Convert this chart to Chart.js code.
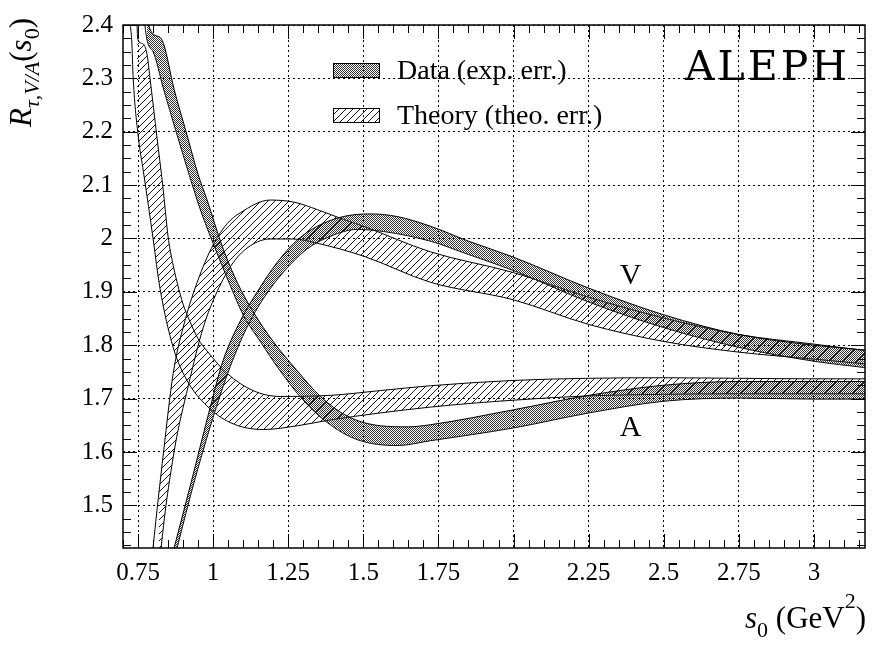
<!DOCTYPE html>
<html lang="en">
<head>
<meta charset="UTF-8">
<title>ALEPH R_tau V/A</title>
<script src="https://cdn.jsdelivr.net/npm/chart.js@4.4.1/dist/chart.umd.min.js"></script>
<style>
  body { margin: 0; background: #fff; }
</style>
</head>
<body>
<canvas id="myChart" width="875" height="650"></canvas>
<script>
// axis ticks
const xTicks = [0.75, 1, 1.25, 1.5, 1.75, 2, 2.25, 2.5, 2.75, 3];
const yTicks = [1.5, 1.6, 1.7, 1.8, 1.9, 2, 2.1, 2.2, 2.3, 2.4];
const xMinorStep = 0.05;
const yMinorStep = 0.025;

// Data (exp. err.), vector channel: upper / lower edge of the band
const dataVHiX = [0.85, 0.87, 0.93, 0.99, 1.033, 1.09, 1.147, 1.213, 1.28, 1.347, 1.433, 1.523, 1.613, 1.723, 1.85, 2.0, 2.25, 2.5, 2.75, 3.0, 3.17];
const dataVHiY = [1.377, 1.42, 1.55, 1.683, 1.771, 1.845, 1.90, 1.955, 1.997, 2.023, 2.041, 2.046, 2.041, 2.023, 1.995, 1.965, 1.907, 1.857, 1.82, 1.80, 1.791];
const dataVLoX = [0.86, 0.88, 0.94, 1.01, 1.057, 1.112, 1.168, 1.234, 1.312, 1.39, 1.479, 1.568, 1.723, 1.85, 2.0, 2.25, 2.5, 2.75, 3.0, 3.17];
const dataVLoY = [1.375, 1.42, 1.55, 1.683, 1.76, 1.833, 1.888, 1.937, 1.98, 2.004, 2.017, 2.013, 1.995, 1.97, 1.94, 1.881, 1.833, 1.796, 1.77, 1.758];

// Data (exp. err.), axial-vector channel
const dataAHiX = [0.78, 0.785, 0.82, 0.835, 0.87, 0.91, 0.95, 0.98, 1.03, 1.08, 1.133, 1.2, 1.28, 1.357, 1.447, 1.557, 1.65, 1.723, 2.0, 2.25, 2.5, 2.75, 3.0, 3.17];
const dataAHiY = [2.45, 2.40, 2.378, 2.365, 2.28, 2.20, 2.12, 2.072, 1.986, 1.918, 1.863, 1.807, 1.752, 1.704, 1.667, 1.649, 1.647, 1.651, 1.679, 1.706, 1.725, 1.732, 1.732, 1.732];
const dataALoX = [0.77, 0.773, 0.80, 0.835, 0.877, 0.92, 0.96, 1.0, 1.057, 1.1, 1.157, 1.223, 1.3, 1.38, 1.48, 1.613, 1.723, 2.0, 2.25, 2.5, 2.75, 3.0, 3.17];
const dataALoY = [2.45, 2.40, 2.35, 2.28, 2.20, 2.12, 2.05, 1.991, 1.912, 1.857, 1.807, 1.752, 1.697, 1.655, 1.623, 1.612, 1.621, 1.645, 1.673, 1.695, 1.701, 1.699, 1.699];

// Theory (theo. err.), vector channel
const theoVHiX = [0.795, 0.80, 0.835, 0.867, 0.9, 0.947, 1.0, 1.047, 1.09, 1.19, 1.27, 1.347, 1.433, 1.5, 1.723, 2.0, 2.25, 2.5, 2.75, 3.0, 3.17];
const theoVHiY = [1.39, 1.42, 1.60, 1.747, 1.833, 1.918, 1.988, 2.028, 2.048, 2.072, 2.068, 2.054, 2.036, 2.023, 1.975, 1.936, 1.890, 1.851, 1.820, 1.802, 1.79];
const theoVLoX = [0.82, 0.827, 0.87, 0.917, 0.967, 1.013, 1.067, 1.123, 1.19, 1.267, 1.347, 1.5, 1.723, 2.0, 2.25, 2.5, 2.75, 3.0, 3.17];
const theoVLoY = [1.37, 1.42, 1.60, 1.723, 1.833, 1.90, 1.955, 1.986, 1.999, 1.999, 1.991, 1.967, 1.918, 1.885, 1.839, 1.807, 1.787, 1.774, 1.765];

// Theory (theo. err.), axial-vector channel
const theoAHiX = [0.746, 0.747, 0.75, 0.766, 0.78, 0.79, 0.813, 0.833, 0.85, 0.865, 0.88, 0.9, 0.923, 0.95, 0.98, 1.047, 1.133, 1.223, 1.39, 1.557, 1.723, 2.0, 2.25, 2.5, 2.75, 3.0, 3.17];
const theoAHiY = [2.45, 2.40, 2.372, 2.365, 2.345, 2.30, 2.19, 2.096, 2.004, 1.955, 1.918, 1.877, 1.844, 1.812, 1.789, 1.747, 1.715, 1.704, 1.706, 1.715, 1.724, 1.734, 1.738, 1.739, 1.738, 1.737, 1.737];
const theoALoX = [0.722, 0.725, 0.729, 0.734, 0.751, 0.768, 0.785, 0.80, 0.823, 0.867, 0.913, 0.98, 1.057, 1.167, 1.28, 1.39, 1.723, 2.0, 2.25, 2.5, 2.75, 3.0, 3.17];
const theoALoY = [2.45, 2.40, 2.372, 2.30, 2.19, 2.125, 2.06, 2.0, 1.907, 1.796, 1.734, 1.686, 1.655, 1.642, 1.649, 1.66, 1.684, 1.697, 1.705, 1.708, 1.709, 1.709, 1.709];

const legendLabels = ['Data (exp. err.)', 'Theory (theo. err.)'];

const serif = '"Liberation Serif", "Times New Roman", serif';
Chart.defaults.font.family = serif;
Chart.defaults.color = '#000';

function pts(xs, ys) {
    return xs.map((x, i) => ({x: x, y: ys[i]}));
}

// fill patterns: fine grey dots for data, "/" hatching for theory
function dotPattern() {
    const c = document.createElement('canvas');
    c.width = 2; c.height = 2;
    const g = c.getContext('2d');
    g.fillStyle = '#333';
    g.fillRect(0, 0, 1, 1);
    g.fillRect(1, 1, 1, 1);
    return g.createPattern(c, 'repeat');
}
function hatchPattern() {
    const c = document.createElement('canvas');
    c.width = 7; c.height = 7;
    const g = c.getContext('2d');
    g.strokeStyle = '#000';
    g.lineWidth = 0.9;
    g.beginPath();
    for (const k of [-7, 0, 7]) {
        g.moveTo(k, 7);
        g.lineTo(k + 7, 0);
    }
    g.stroke();
    return g.createPattern(c, 'repeat');
}
const dots = dotPattern();
const hatch = hatchPattern();

function edge(label, xs, ys, fillWith) {
    return {
        label: label,
        data: pts(xs, ys),
        borderColor: '#000',
        borderWidth: 1,
        pointRadius: 0,
        cubicInterpolationMode: 'monotone',
        fill: fillWith ? '+1' : false,
        backgroundColor: fillWith || 'transparent',
        clip: 0
    };
}

function multiples(lo, hi, step) {
    const out = [];
    for (let k = Math.ceil(lo / step - 1e-6); k * step <= hi + 1e-9; k++) out.push(+(k * step).toFixed(4));
    return out;
}

// frame, inward tick marks, legend and text
const decorations = {
    id: 'decorations',
    afterDraw(chart) {
        const {ctx, chartArea: a, scales: {x, y}} = chart;
        ctx.save();
        ctx.strokeStyle = '#000';
        ctx.lineWidth = 1;
        ctx.beginPath();
        multiples(x.min, x.max, xMinorStep).forEach(v => {
            const px = Math.round(x.getPixelForValue(v)) + 0.5;
            const len = xTicks.some(t => Math.abs(t - v) < 1e-6) ? 14 : 8;
            ctx.moveTo(px, a.bottom); ctx.lineTo(px, a.bottom - len);
            ctx.moveTo(px, a.top); ctx.lineTo(px, a.top + len);
        });
        multiples(y.min, y.max, yMinorStep).forEach(v => {
            const py = Math.round(y.getPixelForValue(v)) + 0.5;
            const len = yTicks.some(t => Math.abs(t - v) < 1e-6) ? 14 : 8;
            ctx.moveTo(a.left, py); ctx.lineTo(a.left + len, py);
            ctx.moveTo(a.right, py); ctx.lineTo(a.right - len, py);
        });
        ctx.stroke();
        ctx.lineWidth = 1.5;
        ctx.strokeRect(a.left, a.top, a.right - a.left, a.bottom - a.top);

        // legend
        const boxes = [[dots, 63], [hatch, 108]];
        ctx.font = '28px ' + serif;
        ctx.textBaseline = 'alphabetic';
        ctx.textAlign = 'left';
        boxes.forEach(([pat, top], i) => {
            ctx.fillStyle = pat;
            ctx.fillRect(333, top, 46, 14);
            ctx.lineWidth = 1;
            ctx.strokeRect(333.5, top + 0.5, 46, 14);
            ctx.fillStyle = '#000';
            ctx.fillText(legendLabels[i], 397, top + 16);
        });

        // experiment tag
        ctx.font = '41px "DejaVu Serif", serif';
        ctx.letterSpacing = '3px';
        ctx.fillText('ALEPH', 685, 80);
        ctx.letterSpacing = '0px';

        // channel labels, placed in data coordinates
        ctx.font = '30px ' + serif;
        ctx.textAlign = 'center';
        ctx.textBaseline = 'middle';
        ctx.fillText('V', x.getPixelForValue(2.39), y.getPixelForValue(1.93));
        ctx.fillText('A', x.getPixelForValue(2.39), y.getPixelForValue(1.645));

        // axis titles with sub/superscripts
        const runs = (parts, x0, y0) => {
            let cx = x0;
            parts.forEach(([txt, style, size, dy]) => {
                ctx.font = style + ' ' + size + 'px ' + serif;
                ctx.fillText(txt, cx, y0 + dy);
                cx += ctx.measureText(txt).width;
            });
        };
        ctx.textAlign = 'left';
        ctx.textBaseline = 'alphabetic';
        runs([['s', 'italic', 31, 0], ['0', 'normal', 22, 9], [' (GeV', 'normal', 31, 0], ['2', 'normal', 22, -20], [')', 'normal', 31, 0]], 745, 628);

        ctx.save();
        ctx.translate(31, 127);
        ctx.rotate(-Math.PI / 2);
        runs([['R', 'italic', 31, 0], ['\u03C4,V/A', 'italic', 22, 8], ['(', 'normal', 31, 0], ['s', 'italic', 31, 0], ['0', 'normal', 22, 8], [')', 'normal', 31, 0]], 0, 0);
        ctx.restore();
        ctx.restore();
    }
};

const ctx = document.getElementById('myChart').getContext('2d');
const myChart = new Chart(ctx, {
    type: 'line',
    data: {
        datasets: [
            edge('Data V', dataVHiX, dataVHiY, dots),
            edge('Data V low', dataVLoX, dataVLoY),
            edge('Data A', dataAHiX, dataAHiY, dots),
            edge('Data A low', dataALoX, dataALoY),
            edge('Theory V', theoVHiX, theoVHiY, hatch),
            edge('Theory V low', theoVLoX, theoVLoY),
            edge('Theory A', theoAHiX, theoAHiY, hatch),
            edge('Theory A low', theoALoX, theoALoY)
        ]
    },
    options: {
        responsive: false,
        animation: false,
        layout: { padding: { left: 0, right: 10, top: 15, bottom: 0 } },
        plugins: {
            legend: { display: false },
            tooltip: { enabled: false }
        },
        scales: {
            x: {
                type: 'linear',
                min: 0.7,
                max: 3.17,
                afterBuildTicks: s => { s.ticks = xTicks.map(v => ({value: v})); },
                afterFit: s => { s.height = 102; },
                grid: { color: '#000', lineWidth: 1, drawTicks: false },
                border: { display: false, dash: [2, 3] },
                ticks: {
                    autoSkip: false, maxRotation: 0, padding: 10,
                    font: { size: 25 },
                    callback: v => String(+v.toFixed(2))
                }
            },
            y: {
                type: 'linear',
                min: 1.42,
                max: 2.4,
                afterBuildTicks: s => { s.ticks = yTicks.map(v => ({value: v})); },
                afterFit: s => { s.width = 123; },
                grid: { color: '#000', lineWidth: 1, drawTicks: false },
                border: { display: false, dash: [2, 3] },
                ticks: {
                    autoSkip: false, padding: 10,
                    font: { size: 25 },
                    callback: v => String(+v.toFixed(2))
                }
            }
        }
    },
    plugins: [decorations]
});
</script>
</body>
</html>
